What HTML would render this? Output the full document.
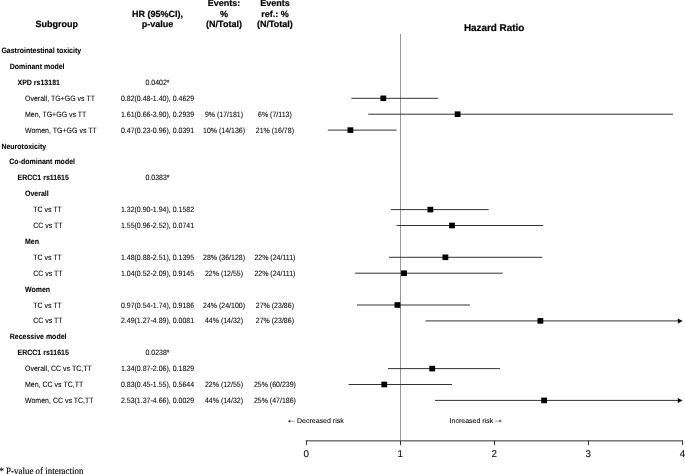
<!DOCTYPE html>
<html><head><meta charset="utf-8"><title>Forest plot</title>
<style>
html,body{margin:0;padding:0;background:#fff;}
body{width:685px;height:474px;overflow:hidden;}
svg{display:block;filter:blur(0.4px);}
.t{font-family:"Liberation Sans",sans-serif;font-size:7px;fill:#000;stroke:#000;stroke-width:0.07px;}
.b{font-weight:bold;}
.h{font-family:"Liberation Sans",sans-serif;font-size:9px;font-weight:bold;fill:#000;stroke:#000;stroke-width:0.2px;}
.m{text-anchor:middle;}
</style></head><body>
<svg width="685" height="474" viewBox="0 0 685 474" text-rendering="geometricPrecision">
<text class="h m" x="56.8" y="27.1">Subgroup</text>
<text class="h m" x="157.5" y="17.2">HR (95%CI),</text>
<text class="h m" x="157.5" y="27.35">p-value</text>
<text class="h m" x="224" y="6.4">Events:</text>
<text class="h m" x="224" y="17.2">%</text>
<text class="h m" x="224" y="27.35">(N/Total)</text>
<text class="h m" x="274.9" y="6.4">Events</text>
<text class="h m" x="274.9" y="17.2">ref.: %</text>
<text class="h m" x="274.9" y="27.35">(N/Total)</text>
<text class="h m" x="494.1" y="30.6" style="font-size:9.9px">Hazard Ratio</text>
<rect x="400" y="34" width="1" height="406" fill="#989898"/>
<rect x="305.7" y="440.1" width="377.2" height="1.4" fill="#6c6c6c"/>
<rect x="306" y="440.6" width="1" height="4.5" fill="#333"/>
<text class="t m" x="306.2" y="457.1" style="font-size:9.8px">0</text>
<rect x="400" y="440.6" width="1" height="4.5" fill="#333"/>
<text class="t m" x="400.25" y="457.1" style="font-size:9.8px">1</text>
<rect x="494" y="440.6" width="1" height="4.5" fill="#333"/>
<text class="t m" x="494.3" y="457.1" style="font-size:9.8px">2</text>
<rect x="588" y="440.6" width="1" height="4.5" fill="#333"/>
<text class="t m" x="588.35" y="457.1" style="font-size:9.8px">3</text>
<rect x="682" y="440.6" width="1" height="4.5" fill="#333"/>
<text class="t m" x="682.4" y="457.1" style="font-size:9.8px">4</text>
<text class="t b" x="1.4" y="53.1" transform="matrix(1,0,0,1.1,0,-5.310)">Gastrointestinal toxicity</text>
<text class="t b" x="9.7" y="69" transform="matrix(1,0,0,1.1,0,-6.900)">Dominant model</text>
<text class="t b" x="17.5" y="84.9" transform="matrix(1,0,0,1.1,0,-8.490)">XPD rs13181</text>
<text class="t m" x="157.5" y="84.9" transform="matrix(1,0,0,1.1,0,-8.490)">0.0402*</text>
<text class="t" x="25" y="100.8" transform="matrix(1,0,0,1.1,0,-10.080)">Overall, TG+GG vs TT</text>
<text class="t m" x="157.5" y="100.8" transform="matrix(1,0,0,1.1,0,-10.080)">0.82(0.48-1.40), 0.4629</text>
<rect x="351.34" y="97.8" width="86.53" height="1" fill="#333"/>
<rect x="380.42" y="95.5" width="5.8" height="5.6" fill="#000"/>
<text class="t" x="25" y="116.7" transform="matrix(1,0,0,1.1,0,-11.670)">Men, TG+GG vs TT</text>
<text class="t m" x="157.5" y="116.7" transform="matrix(1,0,0,1.1,0,-11.670)">1.61(0.66-3.90), 0.2939</text>
<text class="t m" x="224" y="116.7" transform="matrix(1,0,0,1.1,0,-11.670)">9% (17/181)</text>
<text class="t m" x="274.9" y="116.7" transform="matrix(1,0,0,1.1,0,-11.670)">6% (7/113)</text>
<rect x="368.27" y="113.7" width="304.72" height="1" fill="#333"/>
<rect x="454.72" y="111.4" width="5.8" height="5.6" fill="#000"/>
<text class="t" x="25" y="132.6" transform="matrix(1,0,0,1.1,0,-13.260)">Women, TG+GG vs TT</text>
<text class="t m" x="157.5" y="132.6" transform="matrix(1,0,0,1.1,0,-13.260)">0.47(0.23-0.96), 0.0391</text>
<text class="t m" x="224" y="132.6" transform="matrix(1,0,0,1.1,0,-13.260)">10% (14/136)</text>
<text class="t m" x="274.9" y="132.6" transform="matrix(1,0,0,1.1,0,-13.260)">21% (16/78)</text>
<rect x="327.83" y="129.6" width="68.66" height="1" fill="#333"/>
<rect x="347.5" y="127.3" width="5.8" height="5.6" fill="#000"/>
<text class="t b" x="1.4" y="148.5" transform="matrix(1,0,0,1.1,0,-14.850)">Neurotoxicity</text>
<text class="t b" x="9.3" y="164.4" transform="matrix(1,0,0,1.1,0,-16.440)">Co-dominant model</text>
<text class="t b" x="17.5" y="180.3" transform="matrix(1,0,0,1.1,0,-18.030)">ERCC1 rs11615</text>
<text class="t m" x="157.5" y="180.3" transform="matrix(1,0,0,1.1,0,-18.030)">0.0383*</text>
<text class="t b" x="25" y="196.2" transform="matrix(1,0,0,1.1,0,-19.620)">Overall</text>
<text class="t" x="33.2" y="212.1" transform="matrix(1,0,0,1.1,0,-21.210)">TC vs TT</text>
<text class="t m" x="157.5" y="212.1" transform="matrix(1,0,0,1.1,0,-21.210)">1.32(0.90-1.94), 0.1582</text>
<rect x="390.84" y="209.1" width="97.81" height="1" fill="#333"/>
<rect x="427.45" y="206.8" width="5.8" height="5.6" fill="#000"/>
<text class="t" x="33.2" y="228" transform="matrix(1,0,0,1.1,0,-22.800)">CC vs TT</text>
<text class="t m" x="157.5" y="228" transform="matrix(1,0,0,1.1,0,-22.800)">1.55(0.96-2.52), 0.0741</text>
<rect x="396.49" y="225" width="146.72" height="1" fill="#333"/>
<rect x="449.08" y="222.7" width="5.8" height="5.6" fill="#000"/>
<text class="t b" x="25" y="243.9" transform="matrix(1,0,0,1.1,0,-24.390)">Men</text>
<text class="t" x="33.2" y="259.8" transform="matrix(1,0,0,1.1,0,-25.980)">TC vs TT</text>
<text class="t m" x="157.5" y="259.8" transform="matrix(1,0,0,1.1,0,-25.980)">1.48(0.88-2.51), 0.1395</text>
<text class="t m" x="224" y="259.8" transform="matrix(1,0,0,1.1,0,-25.980)">28% (36/128)</text>
<text class="t m" x="274.9" y="259.8" transform="matrix(1,0,0,1.1,0,-25.980)">22% (24/111)</text>
<rect x="388.96" y="256.8" width="153.3" height="1" fill="#333"/>
<rect x="442.49" y="254.5" width="5.8" height="5.6" fill="#000"/>
<text class="t" x="33.2" y="275.7" transform="matrix(1,0,0,1.1,0,-27.570)">CC vs TT</text>
<text class="t m" x="157.5" y="275.7" transform="matrix(1,0,0,1.1,0,-27.570)">1.04(0.52-2.09), 0.9145</text>
<text class="t m" x="224" y="275.7" transform="matrix(1,0,0,1.1,0,-27.570)">22% (12/55)</text>
<text class="t m" x="274.9" y="275.7" transform="matrix(1,0,0,1.1,0,-27.570)">22% (24/111)</text>
<rect x="355.11" y="272.7" width="147.66" height="1" fill="#333"/>
<rect x="401.11" y="270.4" width="5.8" height="5.6" fill="#000"/>
<text class="t b" x="25" y="291.6" transform="matrix(1,0,0,1.1,0,-29.160)">Women</text>
<text class="t" x="33.2" y="307.5" transform="matrix(1,0,0,1.1,0,-30.750)">TC vs TT</text>
<text class="t m" x="157.5" y="307.5" transform="matrix(1,0,0,1.1,0,-30.750)">0.97(0.54-1.74), 0.9186</text>
<text class="t m" x="224" y="307.5" transform="matrix(1,0,0,1.1,0,-30.750)">24% (24/100)</text>
<text class="t m" x="274.9" y="307.5" transform="matrix(1,0,0,1.1,0,-30.750)">27% (23/86)</text>
<rect x="356.99" y="304.5" width="112.86" height="1" fill="#333"/>
<rect x="394.53" y="302.2" width="5.8" height="5.6" fill="#000"/>
<text class="t" x="33.2" y="323.4" transform="matrix(1,0,0,1.1,0,-32.340)">CC vs TT</text>
<text class="t m" x="157.5" y="323.4" transform="matrix(1,0,0,1.1,0,-32.340)">2.49(1.27-4.89), 0.0081</text>
<text class="t m" x="224" y="323.4" transform="matrix(1,0,0,1.1,0,-32.340)">44% (14/32)</text>
<text class="t m" x="274.9" y="323.4" transform="matrix(1,0,0,1.1,0,-32.340)">27% (23/86)</text>
<rect x="425.64" y="320.4" width="252.36" height="1" fill="#333"/>
<path d="M677.8 318.4 L682.6 320.9 L677.8 323.4 Z" fill="#000"/>
<rect x="537.48" y="318.1" width="5.8" height="5.6" fill="#000"/>
<text class="t b" x="9.7" y="339.3" transform="matrix(1,0,0,1.1,0,-33.930)">Recessive model</text>
<text class="t b" x="17.5" y="355.2" transform="matrix(1,0,0,1.1,0,-35.520)">ERCC1 rs11615</text>
<text class="t m" x="157.5" y="355.2" transform="matrix(1,0,0,1.1,0,-35.520)">0.0238*</text>
<text class="t" x="25" y="371.1" transform="matrix(1,0,0,1.1,0,-37.110)">Overall, CC vs TC,TT</text>
<text class="t m" x="157.5" y="371.1" transform="matrix(1,0,0,1.1,0,-37.110)">1.34(0.87-2.06), 0.1829</text>
<rect x="388.02" y="368.1" width="111.92" height="1" fill="#333"/>
<rect x="429.33" y="365.8" width="5.8" height="5.6" fill="#000"/>
<text class="t" x="25" y="387" transform="matrix(1,0,0,1.1,0,-38.700)">Men, CC vs TC,TT</text>
<text class="t m" x="157.5" y="387" transform="matrix(1,0,0,1.1,0,-38.700)">0.83(0.45-1.55), 0.5644</text>
<text class="t m" x="224" y="387" transform="matrix(1,0,0,1.1,0,-38.700)">22% (12/55)</text>
<text class="t m" x="274.9" y="387" transform="matrix(1,0,0,1.1,0,-38.700)">25% (60/239)</text>
<rect x="348.52" y="384" width="103.45" height="1" fill="#333"/>
<rect x="381.36" y="381.7" width="5.8" height="5.6" fill="#000"/>
<text class="t" x="25" y="402.9" transform="matrix(1,0,0,1.1,0,-40.290)">Women, CC vs TC,TT</text>
<text class="t m" x="157.5" y="402.9" transform="matrix(1,0,0,1.1,0,-40.290)">2.53(1.37-4.66), 0.0029</text>
<text class="t m" x="224" y="402.9" transform="matrix(1,0,0,1.1,0,-40.290)">44% (14/32)</text>
<text class="t m" x="274.9" y="402.9" transform="matrix(1,0,0,1.1,0,-40.290)">25% (47/186)</text>
<rect x="435.05" y="399.9" width="242.95" height="1" fill="#333"/>
<path d="M677.8 397.9 L682.6 400.4 L677.8 402.9 Z" fill="#000"/>
<rect x="541.25" y="397.6" width="5.8" height="5.6" fill="#000"/>
<text class="t" x="297.0" y="422.8">Decreased risk</text>
<text class="t" x="449.6" y="422.8">Increased risk</text>
<rect x="289.5" y="420.8" width="5.3" height="0.7" fill="#777"/>
<path d="M287.9 421.15 L290.3 419.6 L290.3 422.7 Z" fill="#444"/>
<rect x="495.0" y="420.7" width="5.0" height="0.7" fill="#777"/>
<path d="M501.8 421.05 L499.5 419.6 L499.5 422.5 Z" fill="#444"/>
<text x="-0.6" y="473.5" textLength="84" lengthAdjust="spacingAndGlyphs" style="font-family:'Liberation Serif',serif;font-size:9.7px;fill:#000;stroke:#000;stroke-width:0.15px">* P-value of interaction</text>
</svg>
</body></html>
